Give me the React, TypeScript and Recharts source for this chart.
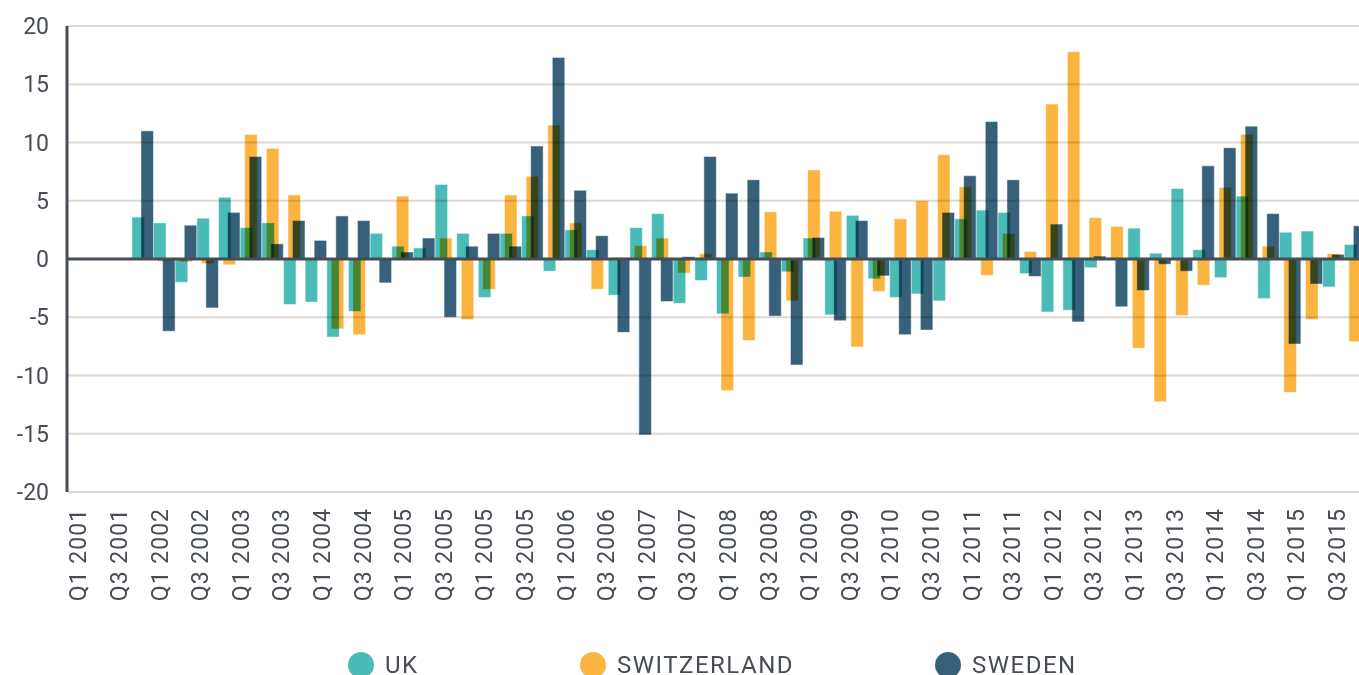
import React from "react";
import {
  BarChart,
  Bar,
  XAxis,
  YAxis,
  CartesianGrid,
  ReferenceLine,
} from "recharts";

// quarters Q1 2001 .. Q4 2015
const years = [2001, 2002, 2003, 2004, 2005, 2006, 2007, 2008, 2009, 2010, 2011, 2012, 2013, 2014, 2015];
const quarters = ["Q1", "Q2", "Q3", "Q4"];

// tick labels as printed under the axis (not aligned with the quarters)
const tickLabels = [
  "Q1 2001", "Q3 2001", "Q1 2002", "Q3 2002", "Q1 2003", "Q3 2003", "Q1 2004", "Q3 2004",
  "Q1 2005", "Q3 2005", "Q1 2005", "Q3 2005", "Q1 2006", "Q3 2006", "Q1 2007", "Q3 2007",
  "Q1 2008", "Q3 2008", "Q1 2009", "Q3 2009", "Q1 2010", "Q3 2010", "Q1 2011", "Q3 2011",
  "Q1 2012", "Q3 2012", "Q1 2013", "Q3 2013", "Q1 2014", "Q3 2014", "Q1 2015", "Q3 2015",
];

const ukValues = [
  null, null, null, 3.6, 3.1, -2.0, 3.5, 5.3, 2.7, 3.1, -3.9, -3.7, -6.7, -4.5, 2.2,
  1.1, 0.95, 6.4, 2.2, -3.3, 2.2, 3.7, -1.05, 2.5, 0.8, -3.1, 2.7,
  3.9, -3.8, -1.85, -4.7, -1.55, 0.6, -1.1, 1.8, -4.8, 3.75, -1.7, -3.3,
  -3.0, -3.6, 3.45, 4.2, 4.0, -1.25, -4.55, -4.4, -0.75, 0.1, 2.65, 0.5,
  6.05, 0.8, -1.6, 5.4, -3.4, 2.3, 2.4, -2.4, 1.25,
];

const switzerlandValues = [
  null, null, null, null, -0.2, -0.25, -0.4, -0.5, 10.7, 9.5, 5.5, 0, -6.0, -6.5, 0,
  5.4, 0, 1.8, -5.2, -2.6, 5.5, 7.1, 11.5, 3.1, -2.6, 0.15, 1.15,
  1.8, -1.2, 0.45, -11.3, -7.0, 4.05, -3.6, 7.65, 4.1, -7.55, -2.8, 3.45,
  5.0, 8.95, 6.2, -1.4, 2.2, 0.65, 13.3, 17.8, 3.55, 2.8, -7.65, -12.25,
  -4.85, -2.25, 6.15, 10.7, 1.1, -11.45, -5.2, 0.45, -7.1,
];

const swedenValues = [
  null, null, null, 11.0, -6.2, 2.9, -4.2, 4.0, 8.8, 1.3, 3.3, 1.6, 3.7, 3.3, -2.05,
  0.6, 1.8, -5.0, 1.1, 2.2, 1.1, 9.7, 17.3, 5.9, 2.0, -6.3, -15.1,
  -3.65, 0.2, 8.8, 5.65, 6.8, -4.9, -9.1, 1.85, -5.3, 3.3, -1.45, -6.5,
  -6.1, 4.0, 7.15, 11.8, 6.8, -1.5, 3.0, -5.4, 0.25, -4.1, -2.7, -0.45,
  -1.05, 8.0, 9.55, 11.4, 3.9, -7.3, -2.15, 0.4, 2.85,
];

const yTicks = [-20, -15, -10, -5, 0, 5, 10, 15, 20];

const series = [
  { key: "uk", name: "UK", color: "#4ABBB7" },
  { key: "ch", name: "SWITZERLAND", color: "#FBB440" },
  { key: "se", name: "SWEDEN", color: "#37607A" },
];

const categories = years.flatMap((y) => quarters.map((q) => `${q} ${y}`));

const rows = categories.map((q, i) => ({
  q,
  uk: ukValues[i],
  ch: switzerlandValues[i],
  se: swedenValues[i],
}));

const labelIdx = tickLabels.map((_, i) => i);

const textColor = "#474c55";

// bars are multiplied onto what lies below them, like the original
const BlendBar = (props: any) => {
  const { x, y, width, height, fill } = props;
  if (!height || !isFinite(height) || !width) return null;
  const top = height < 0 ? y + height : y;
  return (
    <rect
      x={x}
      y={top}
      width={width}
      height={Math.abs(height)}
      fill={fill}
      stroke="rgba(255,255,255,0.5)"
      strokeWidth={1}
      style={{ mixBlendMode: "multiply" }}
    />
  );
};

const QuarterTick = (props: any) => {
  const { x, y, payload } = props;
  return (
    <g transform={`translate(${x},${y})`}>
      <text
        transform="rotate(-90)"
        textAnchor="end"
        dy="0.355em"
        fill={textColor}
        fontSize={23}
        letterSpacing={1}
        fontFamily="Roboto"
      >
        {tickLabels[payload.value]}
      </text>
    </g>
  );
};

const legendLeft = [348, 580, 935];

export default function App() {
  return (
    <div
      style={{
        position: "absolute",
        left: 0,
        top: 0,
        width: 1359,
        height: 675,
        overflow: "hidden",
        background: "#fff",
        fontFamily: "Roboto",
      }}
    >
      <BarChart
        width={1372}
        height={612}
        data={rows}
        margin={{ top: 26, right: 6, left: 7, bottom: 0 }}
        barCategoryGap={0}
        barGap={-8}
        barSize={12.5}
      >
        <CartesianGrid
          xAxisId="main"
          vertical={false}
          stroke="#e0d7ce"
          strokeWidth={2}
        />
        <XAxis xAxisId="main" dataKey="q" hide />
        <XAxis
          xAxisId="lbl"
          dataKey="slot"
          type="number"
          domain={[-0.278, 31.72]}
          ticks={labelIdx}
          allowDataOverflow
          interval={0}
          axisLine={false}
          tickLine={false}
          tickMargin={10}
          height={120}
          tick={<QuarterTick />}
        />
        <YAxis
          domain={[-20, 20]}
          ticks={yTicks}
          interval={0}
          width={60}
          axisLine={{ stroke: textColor, strokeWidth: 3 }}
          tickLine={false}
          tickMargin={12}
          tick={{ fill: textColor, fontSize: 23, fontFamily: "Roboto" }}
        />
        {series.map((s) => (
          <Bar
            key={s.key}
            xAxisId="main"
            dataKey={s.key}
            name={s.name}
            fill={s.color}
            shape={<BlendBar />}
            isAnimationActive={false}
          />
        ))}
        <ReferenceLine xAxisId="main" y={0} stroke={textColor} strokeWidth={3} />
      </BarChart>
      {series.map((s, i) => (
        <div
          key={s.key}
          style={{
            position: "absolute",
            left: legendLeft[i],
            top: 652,
            height: 26,
            display: "flex",
            alignItems: "center",
          }}
        >
          <span
            style={{
              width: 26,
              height: 26,
              borderRadius: "50%",
              background: s.color,
              display: "inline-block",
            }}
          />
          <span
            style={{
              marginLeft: 11,
              fontSize: 24,
              letterSpacing: 1.5,
              color: textColor,
              lineHeight: "26px",
            }}
          >
            {s.name}
          </span>
        </div>
      ))}
    </div>
  );
}
